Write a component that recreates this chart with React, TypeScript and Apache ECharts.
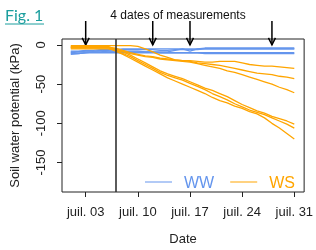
import React, { useEffect, useRef } from "react";
import * as echarts from "echarts";

// Day of July for every measurement
const days = [1, 2, 3, 4, 5, 6, 7, 8, 9, 10, 11, 12, 13, 14, 15, 16, 17, 18, 19, 20, 21, 22, 23, 24, 25, 26, 27, 28, 29, 30, 31];
const xTickDays = [3, 10, 17, 24, 31];
const yTickValues = [0, -50, -100, -150];
const measurementDays = [3, 12, 17, 28];
const treatmentDay = 7.1;

// Well-watered (WW) soil water potential, kPa
const ww1 = [-8, -8, -7, -7, -6, -6, -6, -5, -5, -5, -5, -5, -5, -5, -5, -5, -5, -5, -4, -4, -4, -4, -4, -4, -4, -4, -4, -4, -4, -4, -4];
const ww2 = [-10, -9, -8, -8, -7, -7, -6, -6, -6, -6, -6, -6, -7, -7, -6, -6, -6, -6, -5, -5, -5, -5, -5, -5, -5, -5, -5, -5, -5, -5, -5];
const ww3 = [-12, -11, -10, -9, -9, -8, -8, -8, -8, -8, -9, -9, -9, -9, -7, -5, -8, -5, -5, -5, -5, -5, -5, -5, -5, -5, -5, -5, -5, -5, -5];
const ww4 = [-9, -9, -9, -9, -9, -9, -9, -9, -9, -9, -9, -9, -10, -10, -10, -10, -10, -10, -10, -10, -10, -10, -10, -10, -10, -10, -10, -10, -10, -10, -10];
const ww5 = [-11, -11, -10, -10, -10, -10, -10, -10, -10, -10, -10, -10, -10, -10, -10, -10, -10, -10, -11, -11, -11, -11, -11, -11, -11, -11, -11, -11, -11, -11, -11];

// Water-stressed (WS) soil water potential, kPa
const wsA = [-3, -3, -3, -3, -3, -3, -4, -7, -10, -12, -14, -15, -17, -18, -19, -20, -20, -21, -22, -22, -21, -21, -21, -23, -25, -26, -27, -27, -28, -29, -30];
const wsB = [-1, -1, -1, -1, -1, -1, -1, -1, -1, -2, -5, -9, -13, -16, -19, -20, -21, -23, -24, -25, -26, -28, -30, -32, -34, -36, -37, -38, -40, -41, -43];
const wsC = [-4, -4, -4, -4, -4, -4, -5, -8, -11, -13, -15, -16, -18, -19, -20, -21, -22, -24, -26, -28, -30, -33, -35, -38, -41, -44, -47, -50, -54, -57, -61];
const wsD = [-2, -2, -2, -2, -2, -2, -6, -9, -13, -18, -23, -28, -33, -37, -40, -43, -47, -51, -55, -58, -62, -66, -71, -76, -80, -84, -87, -91, -94, -97, -101];
const wsE = [-5, -5, -5, -5, -5, -5, -7, -11, -15, -20, -25, -30, -35, -39, -42, -45, -49, -53, -57, -62, -66, -70, -75, -79, -83, -86, -89, -93, -97, -101, -106];
const wsF = [-3, -3, -3, -3, -3, -3, -8, -12, -17, -22, -27, -32, -37, -42, -46, -50, -54, -58, -62, -67, -71, -74, -78, -81, -85, -88, -93, -100, -106, -113, -120];

const wwGroup = [ww1, ww2, ww3, ww4, ww5];
const wsGroup = [wsA, wsB, wsC, wsD, wsE, wsF];

const BLUE = "#6495ED";
const ORANGE = "#FFA500";
const FONT = "'Liberation Sans', Arial, sans-serif";

export default function App() {
  const ref = useRef<HTMLDivElement>(null);

  useEffect(() => {
    if (!ref.current) return;
    const chart = echarts.init(ref.current, null, { renderer: "svg" });

    const mk = (name: string, color: string, vals: number[], idx: number) => ({
      name,
      type: "line",
      data: days.map((d, i) => [d, vals[i]]),
      showSymbol: false,
      symbol: "none",
      lineStyle: { color, width: 1.3 },
      itemStyle: { color },
      z: 2,
      ...(idx === 0 && name === "WW"
        ? {
            markLine: {
              silent: true,
              symbol: "none",
              label: { show: false },
              lineStyle: { color: "#333", width: 1.6, type: "solid" },
              data: [{ xAxis: treatmentDay }],
            },
          }
        : {}),
    });

    const series = [
      ...wwGroup.map((v, i) => mk("WW", BLUE, v, i)),
      ...wsGroup.map((v, i) => mk("WS", ORANGE, v, i)),
    ];

    chart.setOption({
      animation: false,
      textStyle: { fontFamily: FONT },
      grid: {
        left: 60,
        right: 10,
        top: 39,
        bottom: 55,
        show: true,
        borderColor: "#222",
        borderWidth: 1,
        backgroundColor: "transparent",
      },
      legend: {
        left: 140,
        top: 169,
        icon: "rect",
        itemWidth: 27,
        itemHeight: 1,
        itemGap: 16,
        data: [
          { name: "WW", textStyle: { color: BLUE } },
          { name: "WS", textStyle: { color: ORANGE } },
        ],
        textStyle: { fontSize: 16, fontFamily: FONT, padding: [0, 0, 0, 7] },
        selectedMode: false,
      },
      xAxis: {
        type: "value",
        min: -0.18,
        max: 32.32,
        name: "Date",
        nameLocation: "middle",
        nameGap: 40,
        nameTextStyle: { fontSize: 13, color: "#222", fontFamily: FONT },
        axisLine: { show: false, onZero: false },
        axisTick: { show: true, inside: false, length: 5, customValues: xTickDays, lineStyle: { color: "#222" } },
        axisLabel: {
          customValues: xTickDays,
          formatter: (v: number) => "juil. " + String(v).padStart(2, "0"),
          fontSize: 13,
          color: "#222",
          margin: 13,
          fontFamily: FONT,
        },
        splitLine: { show: false },
      },
      yAxis: {
        type: "value",
        min: -187.5,
        max: 7.5,
        name: "Soil water potential (kPa)",
        nameLocation: "middle",
        nameGap: 41,
        nameTextStyle: { fontSize: 13, color: "#222", fontFamily: FONT },
        axisLine: { show: false, onZero: false },
        axisTick: { show: true, inside: false, length: 5, customValues: yTickValues, lineStyle: { color: "#222" } },
        axisLabel: {
          customValues: yTickValues,
          rotate: 90,
          fontSize: 13,
          color: "#222",
          margin: 15,
          fontFamily: FONT,
        },
        splitLine: { show: false },
      },
      series,
    });

    const arrows = measurementDays.map((d) => {
      const [x, y] = chart.convertToPixel({ gridIndex: 0 }, [d, 0]) as number[];
      return {
        type: "group",
        children: [
          { type: "line", shape: { x1: x, y1: 21, x2: x, y2: y }, style: { stroke: "#000", lineWidth: 1.5 } },
          {
            type: "polyline",
            shape: { points: [[x - 3.5, y - 7], [x, y], [x + 3.5, y - 7]] },
            style: { stroke: "#000", lineWidth: 1.5, fill: null },
          },
        ],
      };
    });

    chart.setOption({
      graphic: [
        {
          type: "text",
          left: 5,
          top: 6,
          style: { text: "Fig. 1", fill: "#1b9e9e", font: "16px Lato, 'Open Sans', sans-serif" },
        },
        { type: "line", shape: { x1: 5, y1: 24, x2: 44, y2: 24 }, style: { stroke: "#1b9e9e", lineWidth: 1 } },
        {
          type: "text",
          x: 178,
          y: 15,
          style: {
            text: "4 dates of measurements",
            fill: "#111",
            font: "12px 'Liberation Sans', Arial, sans-serif",
            textAlign: "center",
            textVerticalAlign: "middle",
          },
        },
        ...arrows,
      ],
    });

    return () => chart.dispose();
  }, []);

  return <div ref={ref} style={{ position: "fixed", left: 0, top: 0, width: 316, height: 250 }} />;
}
